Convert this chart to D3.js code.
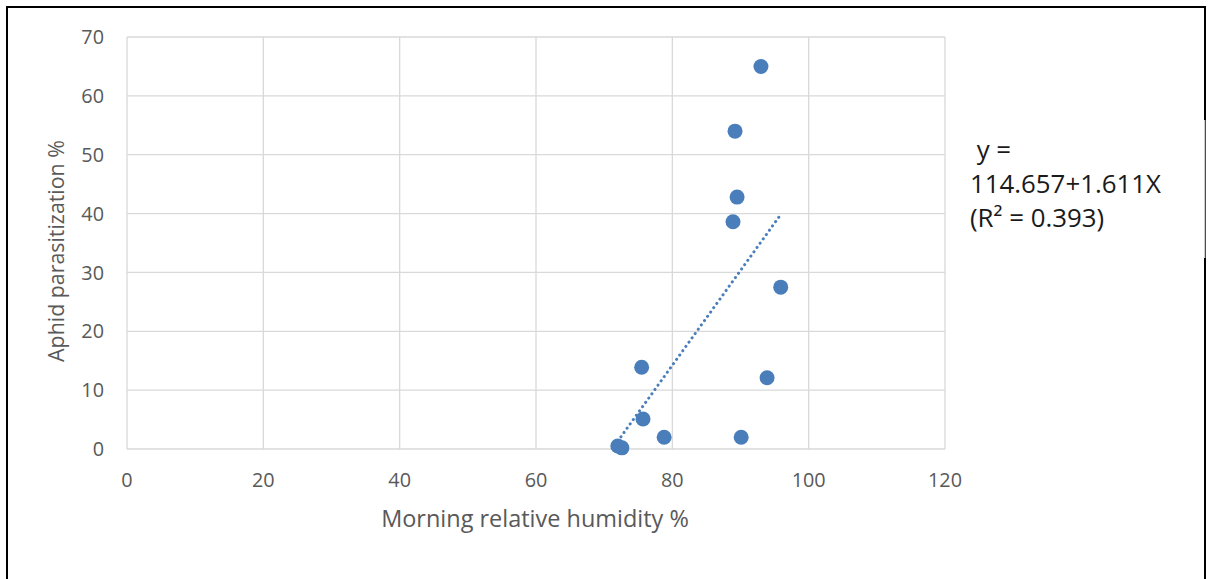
<!DOCTYPE html>
<html><head><meta charset="utf-8">
<script src="https://cdn.jsdelivr.net/npm/d3@7"></script>
<style>body{margin:0;background:#fff}svg{display:block}</style>
</head><body>
<svg id="c" width="1211" height="579"></svg>
<script>
const humidity = [93.0, 89.2, 89.5, 88.9, 95.9, 75.5, 93.9, 75.7, 78.8, 90.1, 72.0, 72.6];
const parasitization = [65.0, 54.0, 42.8, 38.6, 27.5, 13.9, 12.1, 5.1, 2.0, 2.0, 0.5, 0.2];
const xTicks = [0, 20, 40, 60, 80, 100, 120];
const yTicks = [0, 10, 20, 30, 40, 50, 60, 70];
const trendIntercept = -114.657, trendSlope = 1.611;
const eqLines = [" y =", "114.657+1.611X", "(R\u00B2 = 0.393)"];

const svg = d3.select("#c");
const font = "'Open Sans', 'Noto Sans', sans-serif";
const x = d3.scaleLinear().domain([0, 120]).range([127, 945]);
const y = d3.scaleLinear().domain([0, 70]).range([449, 37]);
const grid = "#d9d9d9", lab = "#595959", blue = "#4a7ebb";

// fit helper: choose font-size so text width matches target
function fit(sel, target, base) {
  sel.style("font-size", base + "px");
  const w = sel.node().getComputedTextLength();
  const fs = base * target / w;
  sel.style("font-size", fs + "px");
  return fs;
}

// outer border
svg.append("path").attr("d","M7,579 V7 H1205 V579").attr("fill","none").attr("stroke","#000").attr("stroke-width",2);

// gridlines
svg.append("g").selectAll("line").data(yTicks).join("line")
  .attr("x1", x(0)).attr("x2", x(120)).attr("y1", d=>y(d)).attr("y2", d=>y(d))
  .attr("stroke", grid).attr("stroke-width", 1.3);
svg.append("g").selectAll("line").data(xTicks).join("line")
  .attr("x1", d=>x(d)).attr("x2", d=>x(d)).attr("y1", y(0)).attr("y2", y(70))
  .attr("stroke", grid).attr("stroke-width", 1.3);

// tick labels sized from "120" width (~35px)
const probe = svg.append("text").style("font-family", font).text("120");
const tickFs = fit(probe, 34, 18);
probe.remove();
svg.append("g").selectAll("text").data(yTicks).join("text")
  .attr("x", x(0) - 23).attr("y", d=>y(d)).attr("dy","0.36em").attr("text-anchor","end")
  .attr("fill", lab).style("font-family", font).style("font-size", tickFs+"px").text(d=>d);
svg.append("g").selectAll("text").data(xTicks).join("text")
  .attr("x", d=>x(d)).attr("y", 487).attr("text-anchor","middle")
  .attr("fill", lab).style("font-family", font).style("font-size", tickFs+"px").text(d=>d);

// axis titles
const xt = svg.append("text").attr("x", 535).attr("y", 527).attr("text-anchor","middle")
  .attr("fill", lab).style("font-family", font).text("Morning relative humidity %");
fit(xt, 308, 19);
const yt = svg.append("text").attr("transform","translate(64,251) rotate(-90)").attr("text-anchor","middle")
  .attr("fill", lab).style("font-family", font).text("Aphid parasitization %");
fit(yt, 222, 19);

// trendline
const xmin = d3.min(humidity), xmax = d3.max(humidity);
svg.append("line")
  .attr("x1", x(xmin)).attr("y1", y(trendIntercept + trendSlope*xmin))
  .attr("x2", x(xmax)).attr("y2", y(trendIntercept + trendSlope*xmax))
  .attr("stroke", blue).attr("stroke-width", 3).attr("stroke-linecap","round")
  .attr("stroke-dasharray","0.1 5.2");

// points
svg.append("g").selectAll("circle").data(humidity.map((h,i)=>[h, parasitization[i]])).join("circle")
  .attr("cx", d=>x(d[0])).attr("cy", d=>y(d[1])).attr("r", 7.5).attr("fill", blue);

// equation box
svg.append("rect").attr("x", 955).attr("y", 120).attr("width", 250).attr("height", 138).attr("fill","#fff");
svg.append("line").attr("x1",1205).attr("x2",1205).attr("y1",120).attr("y2",258).attr("stroke","#999").attr("stroke-width",1);
const eq = svg.append("g").selectAll("text").data(eqLines).join("text")
  .attr("x", 970).attr("y", (d,i)=>159 + i*34)
  .attr("fill","#1a1a1a").style("font-family", font)
  .style("white-space","pre").text(d=>d);
const eqProbe = svg.append("text").style("font-family", font).text(eqLines[1]);
const eqFs = fit(eqProbe, 191, 20);
eqProbe.remove();
eq.style("font-size", eqFs + "px");
</script>
</body></html>
